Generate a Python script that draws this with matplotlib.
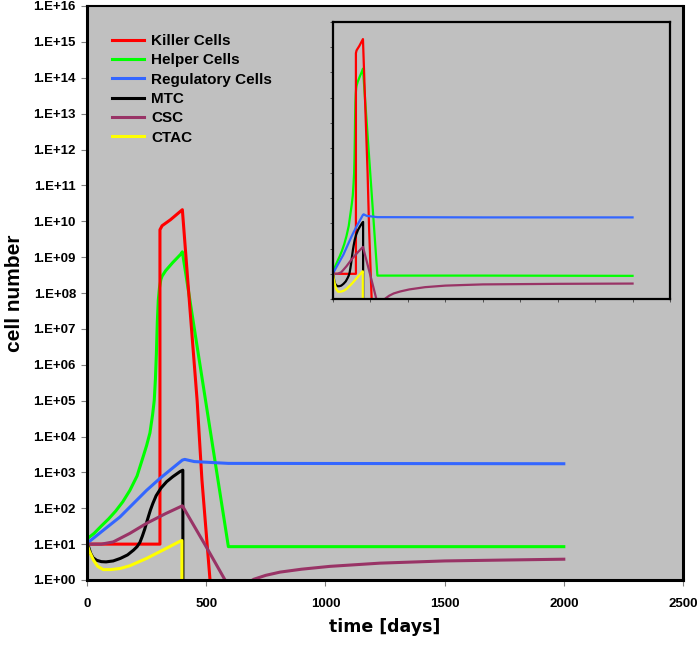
import math
import matplotlib
matplotlib.use("Agg")
import matplotlib.pyplot as plt
from matplotlib.ticker import FixedLocator, FuncFormatter, NullLocator
from matplotlib.font_manager import FontProperties

# ---------------- data ----------------
killer_t = [0, 306, 306, 315, 350, 400, 432, 462, 482, 516, 530]
killer_v = [10, 10, 5.8e9, 7.5e9, 1.1e10, 2.1e10, 3.5e7, 1.0e5, 6.3e2, 1.0, 0.1]

helper_t = [0, 30, 60, 90, 120, 150, 180, 210, 236, 250, 264, 275, 282, 287,
            291, 295, 299, 304, 310, 315, 330, 360, 393, 400, 593, 2000]
helper_v = [14, 20, 32, 50, 83, 151, 316, 794, 2.8e3, 5.6e3, 1.26e4, 4.0e4,
            1.0e5, 4.0e5, 2.0e6, 1.6e7, 6.3e7, 1.4e8, 2.4e8, 2.95e8, 4.2e8,
            7.1e8, 1.2e9, 1.4e9, 8.5, 8.5]

reg_t = [0, 60, 138, 250, 306, 400, 410, 450, 593, 2000]
reg_v = [10.5, 22, 57, 3.16e2, 6.8e2, 2.2e3, 2.3e3, 2.0e3, 1.78e3, 1.74e3]

mtc_t = [0, 8, 15, 25, 40, 60, 80, 110, 140, 170, 195, 210, 222, 232, 242,
         250, 258, 266, 276, 290, 310, 334, 360, 390, 402, 402.5]
mtc_v = [12.5, 7.9, 5.6, 4.2, 3.55, 3.25, 3.2, 3.4, 4.0, 5.0, 6.8, 8.5, 11.2,
         16.6, 26, 40, 60, 89, 135, 224, 363, 550, 760, 1.05e3, 1.15e3, 0.01]

csc_t = [0, 60, 110, 180, 250, 330, 400, 502, 579, 600, 640, 670, 700, 750,
         810, 900, 1019, 1229, 1500, 1750, 2000]
csc_v = [10, 10, 11.5, 20, 38, 71, 117, 8.0, 1.0, 0.3, 0.3, 0.8, 1.05, 1.35,
         1.66, 2.0, 2.4, 2.95, 3.4, 3.6, 3.8]

ctac_t = [0, 10, 27, 45, 68, 100, 140, 180, 250, 320, 390, 398, 398.5]
ctac_v = [10, 6.3, 3.6, 2.4, 1.95, 1.95, 2.1, 2.5, 4.0, 6.9, 12, 12.6, 0.01]

# the inset shows a longer run, to day 4000
helper_ext_t = [4000]
helper_ext_v = [8.3]
reg_ext_t = [4000]
reg_ext_v = [1.74e3]
csc_ext_t = [3000, 4000]
csc_ext_v = [4.0, 4.1]

labels = ["Killer Cells", "Helper Cells", "Regulatory Cells", "MTC", "CSC", "CTAC"]
colors = ["#FF0000", "#00FF00", "#3366FF", "#000000", "#993366", "#FFFF00"]
zorders = [2.15, 2.05, 2.2, 2.3, 2.4, 2.5]

main_series = [
    (killer_t, killer_v), (helper_t, helper_v), (reg_t, reg_v),
    (mtc_t, mtc_v), (csc_t, csc_v), (ctac_t, ctac_v),
]
inset_series = [
    (killer_t, killer_v),
    (helper_t + helper_ext_t, helper_v + helper_ext_v),
    (reg_t + reg_ext_t, reg_v + reg_ext_v),
    (mtc_t, mtc_v),
    (csc_t + csc_ext_t, csc_v + csc_ext_v),
    (ctac_t, ctac_v),
]

y_exponents = list(range(0, 17))
x_ticks = [0, 500, 1000, 1500, 2000, 2500]
inset_x_ticks = [0, 500, 1000, 1500, 2000, 2500, 3000, 3500, 4000, 4500]
inset_y_exponents = list(range(0, 12))

# ---------------- figure ----------------
W, H = 699, 645
fig = plt.figure(figsize=(W / 100, H / 100), dpi=100)
fig.patch.set_facecolor("white")

def fx(px):
    return px / W

def fy(py):
    return 1 - py / H

gray = "#C0C0C0"
tick_fp = FontProperties(family=["Liberation Sans", "DejaVu Sans"], weight="bold", size=9.5)

ax = fig.add_axes([fx(87), fy(580), fx(683) - fx(87), fy(6) - fy(580)])
ax.set_facecolor(gray)
for (t, v), name, c, z in zip(main_series, labels, colors, zorders):
    ax.plot(t, v, color=c, lw=2.2, label=name, zorder=z, solid_joinstyle="round")
ax.set_yscale("log")
ax.set_xlim(0, 2500)
ax.set_ylim(1, 1e16)
ax.yaxis.set_major_locator(FixedLocator([10.0 ** k for k in y_exponents]))
ax.yaxis.set_minor_locator(NullLocator())
ax.yaxis.set_major_formatter(FuncFormatter(lambda val, pos: "1.E+%02d" % round(math.log10(val))))
ax.set_xticks(x_ticks)
ax.set_xticklabels([str(x) for x in x_ticks])
for lab in ax.get_xticklabels() + ax.get_yticklabels():
    lab.set_fontproperties(tick_fp)
ax.tick_params(axis="y", direction="out", length=4, width=0.8, pad=4, color="#808080")
ax.tick_params(axis="x", direction="out", length=4, width=0.8, pad=9, color="#808080")
for sp in ax.spines.values():
    sp.set_linewidth(2.2)
    sp.set_color("black")
ax.spines["top"].set_linewidth(1.5)

ax.set_xlabel("time [days]", fontsize=12.5, fontweight="bold", family="DejaVu Sans", labelpad=6)
ax.set_ylabel("cell number", fontsize=15, fontweight="bold",
              family=["Liberation Sans", "DejaVu Sans"], labelpad=7)

leg = ax.legend(loc="upper left", bbox_to_anchor=(0.0297, 0.9645), frameon=False,
                borderpad=0, handlelength=2.07, handletextpad=0.46, labelspacing=0.35,
                prop=dict(family=["Liberation Sans", "DejaVu Sans"], weight="bold", size=11))
for line in leg.get_lines():
    line.set_linewidth(2.2)

# ---------------- inset ----------------
ins = fig.add_axes([fx(333), fy(299), fx(670) - fx(333), fy(22) - fy(299)])
ins.set_facecolor(gray)
for (t, v), c, z in zip(inset_series, colors, zorders):
    ins.plot(t, v, color=c, lw=1.6, zorder=z, solid_joinstyle="round")
ins.set_yscale("log")
ins.set_xlim(0, 4500)
ins.set_ylim(1, 1e11)
ins.yaxis.set_major_locator(FixedLocator([10.0 ** k for k in inset_y_exponents]))
ins.yaxis.set_minor_locator(NullLocator())
ins.set_xticks(inset_x_ticks)
ins.set_xticklabels([])
ins.set_yticklabels([])
ins.tick_params(axis="both", direction="out", length=2, width=0.6, color="#404040")
for sp in ins.spines.values():
    sp.set_linewidth(1.6)
    sp.set_color("black")

fig.savefig("out.png", dpi=100, facecolor="white")
